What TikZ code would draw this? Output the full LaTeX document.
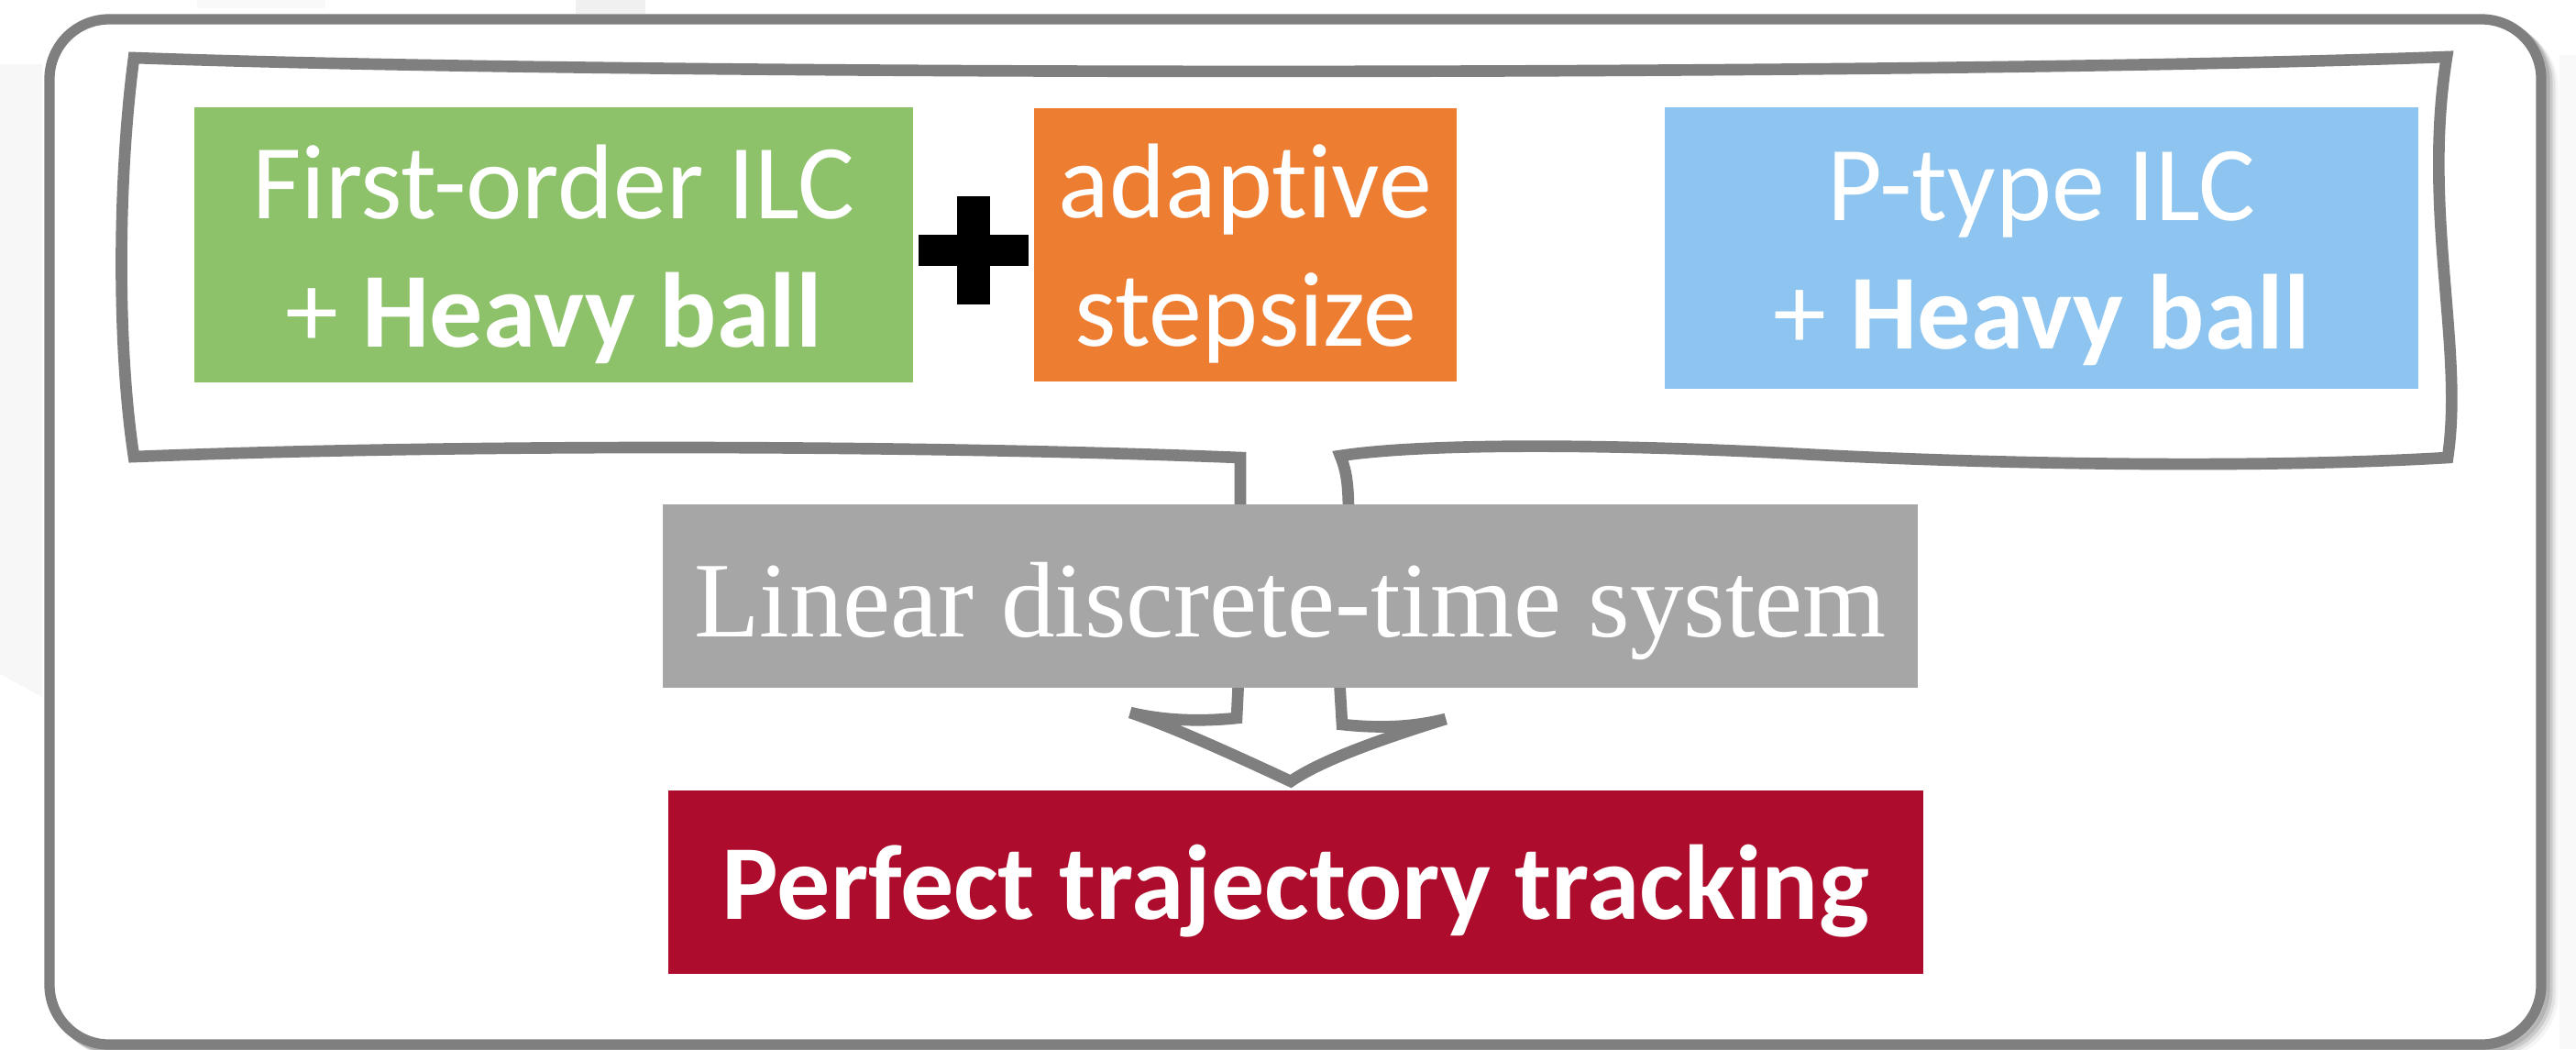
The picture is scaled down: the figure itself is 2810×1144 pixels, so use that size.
\documentclass[tikz,border=0pt]{standalone}
\usepackage{fontspec}
\newfontfamily\calfont[Ligatures={NoCommon,NoContextual}]{Carlito}
\newfontfamily\serfont{Liberation Serif}
\definecolor{edgegray}{HTML}{7F7F7F}
\definecolor{leafgreen}{HTML}{8DC26A}
\definecolor{accorange}{HTML}{ED7D31}
\definecolor{skyblue}{HTML}{8DC5F0}
\definecolor{plantgray}{HTML}{A6A6A6}
\definecolor{crimson}{HTML}{AD0C2C}
\begin{document}
\begin{tikzpicture}[x=0.01cm,y=-0.01cm,
  panel/.style={fill=#1, draw=none, inner sep=0pt, outer sep=0pt},
  sanslbl/.style={text=white, inner sep=0pt, align=center,
    font=\calfont\fontsize{33}{39.8}\selectfont},
  seriflbl/.style={text=white, inner sep=0pt,
    font=\serfont\fontsize{33.3}{40}\selectfont},
  outline/.style={draw=edgegray, line width=3.2pt},
  bracket/.style={draw=edgegray, line width=3.6pt, line join=miter}]
\useasboundingbox (0,0) rectangle (2810,1144);

% faint background marks
\fill[gray!6] (0,70) -- (46,70) -- (46,760) -- (0,735) -- cycle;
\fill[gray!5] (215,0) rectangle (355,9);
\fill[gray!12] (628,0) rectangle (704,15);
\fill[gray!5] (2792,60) rectangle (2810,1144);

% soft shadow of the frame
\foreach \s/\o in {13/0.08, 10/0.15, 7/0.25, 4/0.35}
  \draw[edgegray, line width=3.2pt, opacity=\o, rounded corners=0.65cm]
    ([xshift=\s*0.01cm, yshift=-\s*0.008cm]54,21) rectangle
    ([xshift=\s*0.01cm, yshift=-\s*0.008cm]2772,1139);

% frame
\draw[outline, fill=white, rounded corners=0.65cm] (54,21) rectangle (2772,1139);

% hand-drawn bracket that narrows into the block arrow
\draw[bracket]
  (146,63) .. controls (700,83) and (2100,83) .. (2669,62)
  .. controls (2642,230) and (2688,380) .. (2670,499)
  .. controls (2450,512) and (2150,505) .. (1964,495)
  .. controls (1780,485) and (1560,482) .. (1462,497)
  .. controls (1468,512) and (1471,525) .. (1471,560)
  -- (1461,740) -- (1464,790)
  .. controls (1510,795) and (1545,792) .. (1577,784)
  .. controls (1500,808) and (1440,830) .. (1408,852)
  .. controls (1350,825) and (1280,793) .. (1233,777)
  .. controls (1270,786) and (1310,787) .. (1349,783)
  -- (1353,700) -- (1353,499)
  .. controls (1000,485) and (500,484) .. (146,498)
  .. controls (128,380) and (128,200) .. (146,63) -- cycle;

% coloured blocks
\node[panel=leafgreen, minimum width=7.84cm, minimum height=3.00cm] (fo) at (604,267) {};
\node[panel=accorange, minimum width=4.61cm, minimum height=2.98cm] (ad) at (1358.5,267) {};
\node[panel=skyblue, minimum width=8.22cm, minimum height=3.07cm] (pt) at (2227,270.5) {};
\node[panel=plantgray, minimum width=13.69cm, minimum height=2.00cm] (sys) at (1407.5,650) {};
\node[panel=crimson, minimum width=13.69cm, minimum height=2.00cm] (out) at (1413.5,962) {};

% heavy plus sign between the first two blocks
\fill[black] (1002,256) rectangle (1122,290);
\fill[black] (1044,214) rectangle (1080,332);

% block labels
\node[sanslbl] (fotxt) at (604,277) {First-order ILC\\+ \textbf{Heavy ball}};
\node[sanslbl] (adtxt) at (1358.5,277) {adapt{}ive\\stepsize};
\node[sanslbl] (pttxt) at (2227,282) {P-type ILC\\+ \textbf{Heavy ball}};
\node[seriflbl] (systxt) at (1407.5,666) {Linear discrete-time system};
\node[sanslbl] (outtxt) at (1413.5,972) {\textbf{Perfect trajectory tracking}};
\end{tikzpicture}
\end{document}
